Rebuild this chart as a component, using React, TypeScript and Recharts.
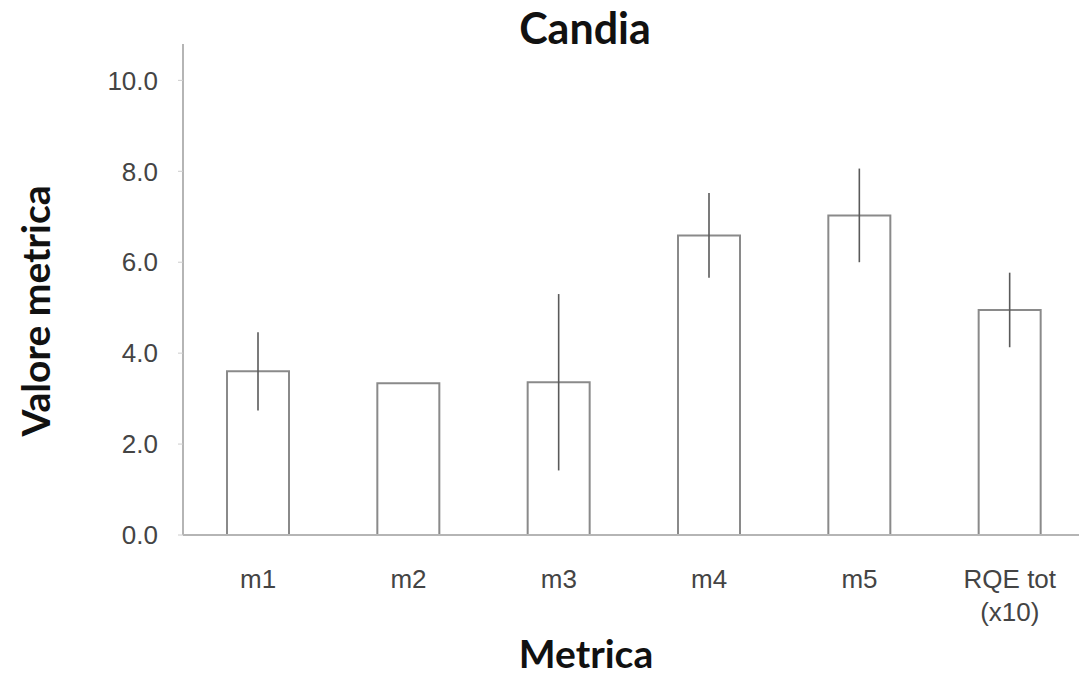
import React from "react"
import { Bar, BarChart, ErrorBar, XAxis, YAxis } from "recharts"

const categories = ["m1", "m2", "m3", "m4", "m5", "RQE tot\n(x10)"]
const values = [3.6, 3.34, 3.36, 6.59, 7.03, 4.95]
const errors = [0.86, 0, 1.94, 0.93, 1.03, 0.82]
const yTicks = [0, 2, 4, 6, 8, 10]

const data = categories.map((name, i) => ({ name, value: values[i], err: errors[i] }))

const labelFont = "Lato, 'Open Sans', sans-serif"
const tickFont = "'Liberation Sans', Arial, sans-serif"

function CategoryTick(props: any) {
  const { x, y, payload } = props
  const lines = String(payload.value).split("\n")
  return (
    <text x={x} y={y + 45} textAnchor="middle" fontFamily={tickFont} fontSize={26} fill="#444">
      {lines.map((line, i) => (
        <tspan key={i} x={x} dy={i === 0 ? 0 : 33}>
          {line}
        </tspan>
      ))}
    </text>
  )
}

export default function App() {
  return (
    <div style={{ position: "absolute", left: 0, top: 0, width: 1079, height: 677, overflow: "hidden", background: "#fff" }}>
      <div
        style={{ position: "absolute", left: 0, width: 1170, top: 2, textAlign: "center", fontFamily: labelFont, fontWeight: 700, fontSize: 43, color: "#111" }}
      >
        Candia
      </div>
      <div
        style={{
          position: "absolute",
          left: 35,
          top: 311,
          transform: "translate(-50%, -50%) rotate(-90deg)",
          whiteSpace: "nowrap",
          fontFamily: labelFont,
          fontWeight: 700,
          fontSize: 39,
          color: "#111"
        }}
      >
        Valore metrica
      </div>
      <div
        style={{ position: "absolute", left: 0, width: 1172, top: 630, textAlign: "center", fontFamily: labelFont, fontWeight: 700, fontSize: 39, color: "#111" }}
      >
        Metrica
      </div>
      <div style={{ position: "absolute", left: 0, top: 0 }}>
        <BarChart width={1085} height={677} data={data} margin={{ top: 44, right: 0, left: 0, bottom: 0 }} barSize={62}>
          <XAxis
            dataKey="name"
            height={142}
            interval={0}
            tick={<CategoryTick />}
            tickLine={false}
            axisLine={{ stroke: "#b5b5b5", strokeWidth: 2 }}
          />
          <YAxis
            width={183}
            domain={[0, 10.8]}
            ticks={yTicks}
            tickFormatter={(v) => Number(v).toFixed(1)}
            tick={{ fontFamily: tickFont, fontSize: 26, fill: "#444" }}
            tickSize={5}
            tickMargin={20}
            tickLine={{ stroke: "#ccc" }}
            axisLine={{ stroke: "#b5b5b5", strokeWidth: 2 }}
          />
          <Bar dataKey="value" fill="#fff" stroke="#8a8a8a" strokeWidth={2} isAnimationActive={false}>
            <ErrorBar dataKey="err" width={0} stroke="#5a5a5a" strokeWidth={1.6} />
          </Bar>
        </BarChart>
      </div>
    </div>
  )
}
